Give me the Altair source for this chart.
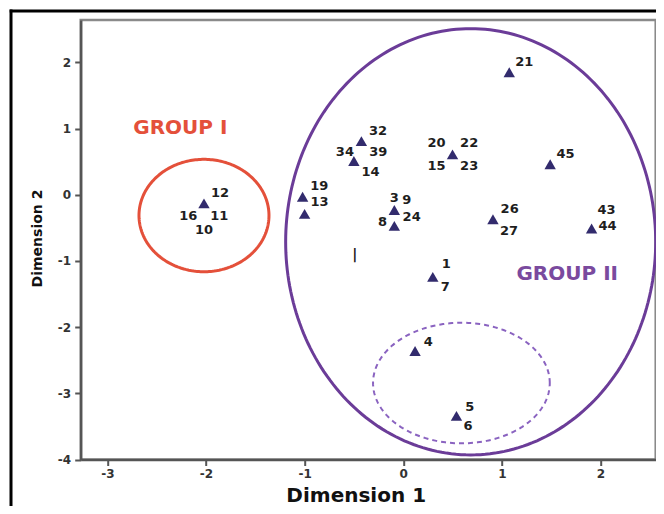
import altair as alt
import pandas as pd
import numpy as np

# ---------------- data ----------------
# distinct triangle positions (Dimension 1, Dimension 2)
tri_x = [1.075, -0.424, -0.50, 0.50, 1.49, -1.02, -1.00, -0.09, -0.09, 0.91, 1.91, 0.30, 0.12, 0.54, -2.02]
tri_y = [1.85, 0.81, 0.51, 0.61, 0.46, -0.03, -0.29, -0.23, -0.47, -0.37, -0.51, -1.24, -2.36, -3.34, -0.13]

# item labels and the triangle each belongs to
labels = ["21", "32", "34", "39", "14", "20", "22", "15", "23", "45", "19", "13", "3", "9", "8", "24",
          "26", "27", "43", "44", "1", "7", "4", "5", "6", "12", "16", "11", "10"]
label_tri = [0, 1, 2, 2, 2, 3, 3, 3, 3, 4, 5, 6, 7, 7, 8, 8, 9, 9, 10, 10, 11, 11, 12, 13, 13, 14, 14, 14, 14]

# group annotations
group_names = ["GROUP I", "GROUP II"]
group_x = [-2.26, 1.663]
group_y = [1.007, -1.19]

# ellipses: centre x, centre y, radius x, radius y
ell_names = ["group1", "group2", "sub"]
ell_cx = [-2.02, 0.684, 0.59]
ell_cy = [-0.314, -0.711, -2.845]
ell_rx = [0.659, 1.876, 0.896]
ell_ry = [0.849, 3.22, 0.911]

x_ticks = [-3, -2, -1, 0, 1, 2]
y_ticks = [-4, -3, -2, -1, 0, 1, 2]

# ---------------- layout / style ----------------
W, H = 575, 439.5
XDOM = [-3.27, 2.56]
YDOM = [-4.0, 2.64]
SX = W / (XDOM[1] - XDOM[0])
SY = H / (YDOM[1] - YDOM[0])

# label pixel offsets from their triangle
label_dx = [15, 16.6, -9, 24.3, 16.7, -16, 16.6, -16, 16.6, 15.3, 16.6, 15, 0, 12.4, -11.7, 17.3,
            16.7, 16, 15, 16, 13.4, 12.4, 13.3, 13.3, 11.6, 16, -15.7, 15.3, 0]
label_dy = [-10, -10, -9.3, -8.7, 11.3, -11, -11, 11.4, 11.4, -10.3, -10.7, -11.7, -11.7, -10, -4.3, -9.3,
            -10, 11.4, -18, -2, -12.4, 10, -9, -9.3, 10, -10.6, 12.7, 12.7, 26.7]

pts = pd.DataFrame({"x": tri_x, "y": tri_y})
lab = pd.DataFrame({
    "label": labels,
    "x": [tri_x[i] + dx / SX for i, dx in zip(label_tri, label_dx)],
    "y": [tri_y[i] - dy / SY for i, dy in zip(label_tri, label_dy)],
})
groups = pd.DataFrame({"name": group_names, "x": group_x, "y": group_y})

t = np.linspace(0, 2 * np.pi, 241)
ell_rows = []
for n, cx, cy, rx, ry in zip(ell_names, ell_cx, ell_cy, ell_rx, ell_ry):
    for k, tt in enumerate(t):
        ell_rows.append({"ell": n, "k": k, "x": cx + rx * np.cos(tt), "y": cy + ry * np.sin(tt)})
ell = pd.DataFrame(ell_rows)

xs = alt.Scale(domain=XDOM, nice=False, zero=False)
ys = alt.Scale(domain=YDOM, nice=False, zero=False)

x_axis = alt.Axis(values=x_ticks, title="Dimension 1", labelExpr="'' + datum.value",
                  titleFont="DejaVu Sans", titleFontWeight="bold", titleFontSize=20, titleColor="#111",
                  titleX=275, titleY=42, titleBaseline="alphabetic", titleAlign="center",
                  labelPadding=3)
y_axis = alt.Axis(values=y_ticks, title="Dimension 2", labelExpr="'' + datum.value",
                  titleFont="DejaVu Sans", titleFontWeight="bold", titleFontSize=14, titleColor="#111",
                  titleX=-38.7, titleY=218, titleAngle=-90, titleBaseline="alphabetic", titleAlign="center",
                  labelPadding=4)

base_x = alt.X("x:Q", scale=xs, axis=x_axis)
base_y = alt.Y("y:Q", scale=ys, axis=y_axis)

def ell_layer(name, color, width, dash=None):
    kw = dict(color=color, strokeWidth=width)
    if dash:
        kw["strokeDash"] = dash
    return alt.Chart(ell).transform_filter(alt.datum.ell == name).mark_line(**kw).encode(
        x=alt.X("x:Q", scale=xs), y=alt.Y("y:Q", scale=ys), order="k:Q")

e1 = ell_layer("group1", "#e4503a", 3)
e2 = ell_layer("group2", "#6b3c98", 3)
e3 = ell_layer("sub", "#8a63c0", 2, [5, 4])

tri = alt.Chart(pts).mark_point(shape="triangle-up", filled=True, size=130, color="#322b6d",
                                opacity=1).encode(x=base_x, y=base_y)

txt = alt.Chart(lab).mark_text(font="DejaVu Sans", fontWeight="bold", fontSize=13, color="#1e1e1e",
                               align="center", baseline="middle").encode(
    x=alt.X("x:Q", scale=xs), y=alt.Y("y:Q", scale=ys), text="label:N")

grp = alt.Chart(groups).mark_text(font="DejaVu Sans", fontWeight="bold", fontSize=20,
                                  align="center", baseline="middle").encode(
    x=alt.X("x:Q", scale=xs), y=alt.Y("y:Q", scale=ys), text="name:N",
    color=alt.Color("name:N", scale=alt.Scale(domain=group_names, range=["#e4503a", "#7a4a9e"]), legend=None))

mark_bar = alt.Chart(pd.DataFrame({"x": [-0.49], "y": [-0.91], "t": ["|"]})).mark_text(
    font="DejaVu Sans", fontSize=14, fontWeight="bold", color="#222222", align="center",
    baseline="middle").encode(
    x=alt.X("x:Q", scale=xs), y=alt.Y("y:Q", scale=ys), text="t:N")

one = pd.DataFrame({"a": [0]})
frame_left = alt.Chart(one).mark_rule(color="black", strokeWidth=3).encode(
    x=alt.value(-69.7), y=alt.value(-10.5), y2=alt.value(520))
frame_top = alt.Chart(one).mark_rule(color="black", strokeWidth=3).encode(
    x=alt.value(-71), x2=alt.value(700), y=alt.value(-9))

chart = alt.layer(tri, e1, e2, e3, txt, grp, mark_bar, frame_left, frame_top).properties(
    width=W, height=H,
    autosize=alt.AutoSizeParams(type="none"),
    padding={"left": 72.7, "top": 12, "right": 0.3, "bottom": 46},
).configure_view(
    stroke="#8a8a8a", strokeWidth=2.5
).configure_axis(
    grid=False, domainColor="#555", domainWidth=2.5, tickColor="#555", tickWidth=2, tickSize=6,
    labelFont="DejaVu Sans", labelFontWeight="bold", labelFontSize=12, labelColor="#333"
)

chart.save("out.html", embed_options={"renderer": "svg", "actions": False})
